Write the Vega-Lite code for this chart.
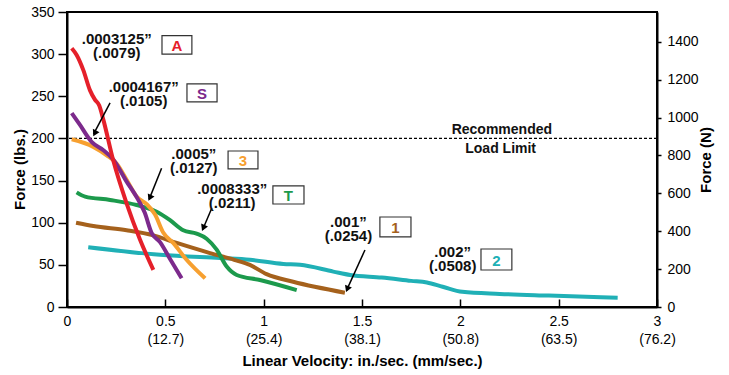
{
  "$schema": "https://vega.github.io/schema/vega-lite/v6.json",
  "width": 590,
  "height": 295,
  "autosize": {"type": "none"},
  "padding": {"left": 67, "top": 12, "right": 72, "bottom": 68},
  "background": "white",
  "config": {
    "font": "Liberation Sans",
    "view": {"stroke": "#000", "strokeWidth": 2},
    "axis": {"labelFont": "Liberation Sans", "titleFont": "Liberation Sans", "domainColor": "#000", "tickColor": "#000", "labelColor": "#000", "titleColor": "#000", "grid": false, "domainWidth": 2, "tickWidth": 1.5}
  },
  "datasets": {
    "curves": [
      {"s": "2", "v": 0.108, "f": 71}, {"s": "2", "v": 0.473, "f": 62}, {"s": "2", "v": 0.778, "f": 58}, {"s": "2", "v": 0.93, "f": 56}, {"s": "2", "v": 1.1, "f": 51}, {"s": "2", "v": 1.185, "f": 50}, {"s": "2", "v": 1.354, "f": 42}, {"s": "2", "v": 1.44, "f": 38}, {"s": "2", "v": 1.6, "f": 35}, {"s": "2", "v": 1.75, "f": 31}, {"s": "2", "v": 1.83, "f": 29}, {"s": "2", "v": 1.91, "f": 24}, {"s": "2", "v": 2.01, "f": 18}, {"s": "2", "v": 2.2, "f": 15.5}, {"s": "2", "v": 2.45, "f": 13.5}, {"s": "2", "v": 2.8, "f": 11},
      {"s": "1", "v": 0.046, "f": 100}, {"s": "1", "v": 0.134, "f": 96}, {"s": "1", "v": 0.303, "f": 91}, {"s": "1", "v": 0.439, "f": 85}, {"s": "1", "v": 0.558, "f": 76}, {"s": "1", "v": 0.727, "f": 64}, {"s": "1", "v": 0.85, "f": 56}, {"s": "1", "v": 0.93, "f": 50}, {"s": "1", "v": 1.015, "f": 39}, {"s": "1", "v": 1.15, "f": 30}, {"s": "1", "v": 1.413, "f": 17},
      {"s": "T", "v": 0.049, "f": 136}, {"s": "T", "v": 0.092, "f": 131}, {"s": "T", "v": 0.219, "f": 127}, {"s": "T", "v": 0.354, "f": 121}, {"s": "T", "v": 0.456, "f": 113}, {"s": "T", "v": 0.524, "f": 103}, {"s": "T", "v": 0.591, "f": 91}, {"s": "T", "v": 0.659, "f": 87}, {"s": "T", "v": 0.71, "f": 81}, {"s": "T", "v": 0.761, "f": 68}, {"s": "T", "v": 0.812, "f": 48}, {"s": "T", "v": 0.863, "f": 38}, {"s": "T", "v": 0.981, "f": 32}, {"s": "T", "v": 1.168, "f": 20},
      {"s": "3", "v": 0.024, "f": 199}, {"s": "3", "v": 0.134, "f": 190}, {"s": "3", "v": 0.202, "f": 180}, {"s": "3", "v": 0.253, "f": 170}, {"s": "3", "v": 0.303, "f": 151}, {"s": "3", "v": 0.354, "f": 131}, {"s": "3", "v": 0.405, "f": 122}, {"s": "3", "v": 0.447, "f": 110}, {"s": "3", "v": 0.49, "f": 88}, {"s": "3", "v": 0.54, "f": 76}, {"s": "3", "v": 0.608, "f": 56}, {"s": "3", "v": 0.702, "f": 34},
      {"s": "S", "v": 0.024, "f": 230}, {"s": "S", "v": 0.066, "f": 216}, {"s": "S", "v": 0.125, "f": 196}, {"s": "S", "v": 0.185, "f": 186}, {"s": "S", "v": 0.235, "f": 175}, {"s": "S", "v": 0.3, "f": 150}, {"s": "S", "v": 0.36, "f": 128}, {"s": "S", "v": 0.395, "f": 112}, {"s": "S", "v": 0.43, "f": 88}, {"s": "S", "v": 0.473, "f": 77}, {"s": "S", "v": 0.524, "f": 57}, {"s": "S", "v": 0.583, "f": 34},
      {"s": "A", "v": 0.024, "f": 307}, {"s": "A", "v": 0.049, "f": 299}, {"s": "A", "v": 0.083, "f": 281}, {"s": "A", "v": 0.117, "f": 257}, {"s": "A", "v": 0.142, "f": 246}, {"s": "A", "v": 0.164, "f": 239}, {"s": "A", "v": 0.185, "f": 222}, {"s": "A", "v": 0.235, "f": 174}, {"s": "A", "v": 0.303, "f": 123}, {"s": "A", "v": 0.371, "f": 80}, {"s": "A", "v": 0.439, "f": 44}
    ],
    "notes": [
      {"t": [".0003125”", "(.0079)"], "v": 0.253, "f": 317.5},
      {"t": [".0004167”", "(.0105)"], "v": 0.39, "f": 260.5},
      {"t": [".0005”", "(.0127)"], "v": 0.645, "f": 181},
      {"t": [".0008333”", "(.0211)"], "v": 0.84, "f": 139.5},
      {"t": [".001”", "(.0254)"], "v": 1.431, "f": 100.3},
      {"t": [".002”", "(.0508)"], "v": 1.961, "f": 64.7}
    ],
    "boxes": [
      {"id": "A", "v1": 0.483, "v2": 0.635, "f1": 300, "f2": 322, "vc": 0.559, "fc": 311},
      {"id": "S", "v1": 0.61, "v2": 0.763, "f1": 243.3, "f2": 264.7, "vc": 0.686, "fc": 254},
      {"id": "3", "v1": 0.819, "v2": 0.971, "f1": 163.8, "f2": 185.1, "vc": 0.895, "fc": 174.5},
      {"id": "T", "v1": 1.047, "v2": 1.205, "f1": 122.2, "f2": 143.6, "vc": 1.126, "fc": 133},
      {"id": "1", "v1": 1.591, "v2": 1.749, "f1": 83.1, "f2": 106.8, "vc": 1.67, "fc": 95},
      {"id": "2", "v1": 2.105, "v2": 2.262, "f1": 43.9, "f2": 68.8, "vc": 2.184, "fc": 56}
    ],
    "arrows": [
      {"id": "S", "v": 0.219, "f": 242.1}, {"id": "S", "v": 0.135, "f": 205},
      {"id": "3", "v": 0.481, "f": 164.6}, {"id": "3", "v": 0.418, "f": 128},
      {"id": "T", "v": 0.736, "f": 117.1}, {"id": "T", "v": 0.69, "f": 92},
      {"id": "1", "v": 1.515, "f": 67.6}, {"id": "1", "v": 1.422, "f": 20}
    ],
    "heads": [
      {"id": "S", "v": 0.141, "f": 206.0},
      {"id": "3", "v": 0.421, "f": 129.4},
      {"id": "T", "v": 0.693, "f": 93.8},
      {"id": "1", "v": 1.425, "f": 21.2}
    ],
    "limit": [{"f": 200}],
    "limitText": [{"t": "Recommended", "v": 2.211, "f": 210}, {"t": "Load Limit", "v": 2.205, "f": 187.5}],
    "newton": [{"n": 0}, {"n": 1400}],
    "mm": [{"v": 0}, {"v": 3}]
  },
  "resolve": {"scale": {"y": "independent", "x": "independent"}, "axis": {"y": "independent", "x": "independent"}},
  "layer": [
    {
      "layer": [
        {
          "data": {"name": "limit"},
          "mark": {"type": "rule", "color": "#000", "strokeWidth": 1.2, "strokeDash": [3, 2]},
          "encoding": {
            "y": {"field": "f", "type": "quantitative", "scale": {"domain": [0, 350], "nice": false},
              "axis": {"orient": "left", "values": [0, 50, 100, 150, 200, 250, 300, 350], "title": "Force (lbs.)", "titleFontSize": 15, "titleFontWeight": "bold", "labelFontSize": 14, "tickSize": 9, "labelPadding": 4, "titlePadding": 3, "titleY": 157}}
          }
        },
        {
          "data": {"name": "curves"},
          "mark": {"type": "line", "strokeWidth": 4, "interpolate": "monotone"},
          "encoding": {
            "x": {"field": "v", "type": "quantitative", "scale": {"domain": [0, 3], "nice": false},
              "axis": {"orient": "bottom", "values": [0, 0.5, 1, 1.5, 2, 2.5, 3], "format": "~g", "title": null, "labelFontSize": 14, "tickSize": -8, "labelPadding": 15, "labelFlush": false, "labelOverlap": false, "labelBound": false, "zindex": 2}},
            "y": {"field": "f", "type": "quantitative"},
            "color": {"field": "s", "type": "nominal", "legend": null,
              "scale": {"domain": ["A", "S", "3", "T", "1", "2"], "range": ["#e5202a", "#7c2a8c", "#f7a030", "#1c9a4c", "#a5611c", "#20b0b6"]}},
            "order": {"field": "v", "type": "quantitative"}
          }
        },
        {
          "data": {"name": "limitText"},
          "mark": {"type": "text", "fontSize": 14, "fontWeight": "bold", "color": "#111", "align": "center", "baseline": "middle"},
          "encoding": {
            "x": {"field": "v", "type": "quantitative"},
            "y": {"field": "f", "type": "quantitative"},
            "text": {"field": "t"}
          }
        },
        {
          "data": {"name": "arrows"},
          "mark": {"type": "line", "color": "#000", "strokeWidth": 1.5},
          "encoding": {
            "x": {"field": "v", "type": "quantitative"},
            "y": {"field": "f", "type": "quantitative"},
            "detail": {"field": "id"}
          }
        },
        {
          "data": {"name": "heads"},
          "mark": {"type": "point", "shape": "triangle-up", "filled": true, "color": "#000", "size": 55, "opacity": 1},
          "encoding": {
            "x": {"field": "v", "type": "quantitative"},
            "y": {"field": "f", "type": "quantitative"},
            "angle": {"field": "id", "type": "nominal", "legend": null, "scale": {"domain": ["S", "3", "T", "1"], "range": [206.6, 201.9, 203, 204.3]}}
          }
        },
        {
          "data": {"name": "notes"},
          "mark": {"type": "text", "fontSize": 15, "fontWeight": "bold", "color": "#111", "align": "center", "baseline": "middle", "lineHeight": 14},
          "encoding": {
            "x": {"field": "v", "type": "quantitative"},
            "y": {"field": "f", "type": "quantitative"},
            "text": {"field": "t"}
          }
        },
        {
          "data": {"name": "boxes"},
          "mark": {"type": "rect", "fill": "#fff", "stroke": "#333", "strokeWidth": 1.2},
          "encoding": {
            "x": {"field": "v1", "type": "quantitative"},
            "x2": {"field": "v2"},
            "y": {"field": "f1", "type": "quantitative"},
            "y2": {"field": "f2"}
          }
        },
        {
          "data": {"name": "boxes"},
          "mark": {"type": "text", "fontSize": 15, "fontWeight": "bold", "align": "center", "baseline": "middle", "dy": 1},
          "encoding": {
            "x": {"field": "vc", "type": "quantitative"},
            "y": {"field": "fc", "type": "quantitative"},
            "text": {"field": "id"},
            "color": {"field": "id", "type": "nominal", "legend": null,
              "scale": {"domain": ["A", "S", "3", "T", "1", "2"], "range": ["#e5202a", "#7c2a8c", "#f7a030", "#1c9a4c", "#a5611c", "#20b0b6"]}}
          }
        }
      ]
    },
    {
      "data": {"name": "newton"},
      "mark": {"type": "point", "opacity": 0},
      "encoding": {
        "y": {"field": "n", "type": "quantitative", "scale": {"domain": [0, 1556.8], "nice": false},
          "axis": {"orient": "right", "values": [0, 200, 400, 600, 800, 1000, 1200, 1400], "format": "d", "title": "Force (N)", "titleFontSize": 15, "titleFontWeight": "bold", "titleAngle": 270, "labelFontSize": 14, "tickSize": 4, "labelPadding": 6, "titlePadding": 15}}
      }
    },
    {
      "data": {"name": "mm"},
      "mark": {"type": "point", "opacity": 0},
      "encoding": {
        "x": {"field": "v", "type": "quantitative", "scale": {"domain": [0, 3], "nice": false},
          "axis": {"orient": "bottom", "values": [0.5, 1, 1.5, 2, 2.5, 3], "labelExpr": "'(' + format(datum.value * 25.4, '.1f') + ')'", "domain": false, "ticks": false, "tickSize": 0, "labelPadding": 25, "labelFontSize": 14, "labelFlush": false, "labelOverlap": false, "title": "Linear Velocity:  in./sec. (mm/sec.)", "titleFontSize": 15, "titleFontWeight": "bold", "titlePadding": 7}}
      }
    }
  ]
}
